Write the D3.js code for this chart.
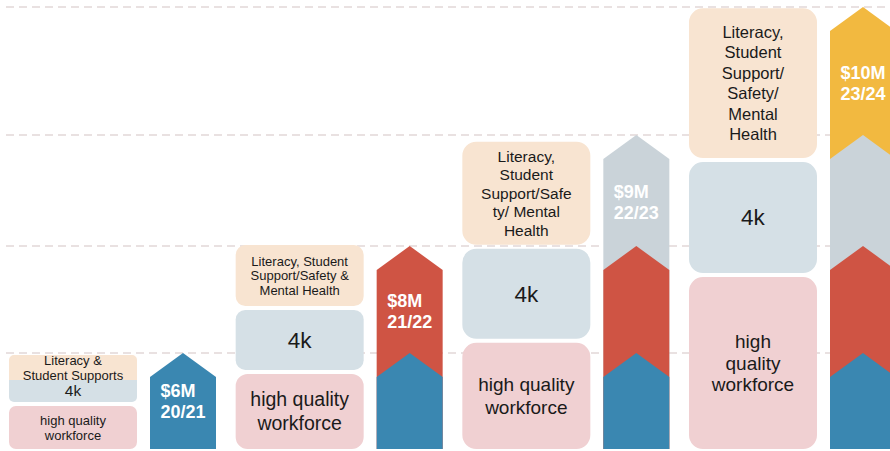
<!DOCTYPE html>
<html>
<head>
<meta charset="utf-8">
<script src="https://cdn.jsdelivr.net/npm/d3@7"></script>
<style>
  html, body { margin: 0; padding: 0; background: #ffffff; }
  svg { display: block; }
  text { font-family: "Liberation Sans", Arial, sans-serif; }
</style>
</head>
<body>
<svg id="chart" width="890" height="451"></svg>
<script>
// ---------------- DATA ----------------
const years = ["20/21", "21/22", "22/23", "23/24"];
const amounts = [6, 8, 9, 10];                       // $M per year
const amountLabels = ["$6M", "$8M", "$9M", "$10M"];

// share of each year's column height taken by each box
const workforceShare = [0.448, 0.37, 0.338, 0.389];
const fourKShare     = [0.229, 0.295, 0.287, 0.251];
const literacyShare  = [0.26, 0.30, 0.328, 0.339];

const workforceLabels = [
  ["high quality", "workforce"],
  ["high quality", "workforce"],
  ["high quality", "workforce"],
  ["high", "quality", "workforce"]
];
const fourKLabels = ["4k", "4k", "4k", "4k"];
const literacyLabels = [
  ["Literacy &", "Student Supports"],
  ["Literacy, Student", "Support/Safety &", "Mental Health"],
  ["Literacy,", "Student", "Support/Safe", "ty/ Mental", "Health"],
  ["Literacy,", "Student", "Support/", "Safety/", "Mental", "Health"]
];

// ---------------- STYLE / LAYOUT ----------------
const W = 890, Hh = 451;
const baseline = 449;
const arrowColors = ["#3a87b1", "#cf5444", "#cad3d9", "#f2b940"];
const boxColors = { workforce: "#f0d0d2", fourK: "#d5e0e6", literacy: "#f8e4d1" };
const textColor = "#1a1a1a";
const arrowW = 66, depth = 24;
const boxOffset = 141, boxW = 128, gap = 4;
const joinGap = [0, gap, gap, gap];          // first group: literacy + 4k form one box
const fonts = {
  workforce: [{fs: 13, lh: 15}, {fs: 19.5, lh: 24}, {fs: 19, lh: 23}, {fs: 19, lh: 21.5}],
  fourK:     [{fs: 15.5, lh: 15}, {fs: 22.5, lh: 22}, {fs: 22.5, lh: 22}, {fs: 22.5, lh: 22}],
  literacy:  [{fs: 13, lh: 15}, {fs: 13, lh: 14.5}, {fs: 15.5, lh: 18.5}, {fs: 16.5, lh: 20.5}]
};

const svg = d3.select("#chart");
svg.append("rect").attr("width", W).attr("height", Hh).attr("fill", "#fff");

// scales
const y = d3.scaleLinear().domain([0, 6, 8, 9, 10]).range([baseline, 353, 246, 135, 7]);
const x = d3.scalePoint().domain(years).range([150, 830]);

// gridlines
svg.append("g").selectAll("line").data(amounts).join("line")
  .attr("x1", 6).attr("x2", W)
  .attr("y1", d => y(d)).attr("y2", d => y(d))
  .attr("stroke", "#e2d7d7").attr("stroke-width", 1.3)
  .attr("stroke-dasharray", "8,5");

function rrect(x0, y0, w, h, rt, rb) {
  return `M${x0 + rt},${y0} H${x0 + w - rt} A${rt},${rt} 0 0 1 ${x0 + w},${y0 + rt}` +
    ` V${y0 + h - rb} A${rb},${rb} 0 0 1 ${x0 + w - rb},${y0 + h}` +
    ` H${x0 + rb} A${rb},${rb} 0 0 1 ${x0},${y0 + h - rb}` +
    ` V${y0 + rt} A${rt},${rt} 0 0 1 ${x0 + rt},${y0} Z`;
}
const rad = h => Math.max(5, Math.min(14, h * 0.16));

function multiline(g, lines, cx, cy, f) {
  const t = g.append("text").attr("text-anchor", "middle").attr("fill", textColor)
    .attr("font-size", f.fs);
  const first = cy - (lines.length - 1) * f.lh / 2 + f.fs * 0.35;
  lines.forEach((l, i) => t.append("tspan").attr("x", cx).attr("y", first + i * f.lh).text(l));
  return t;
}

// box stacks
const boxes = svg.append("g");
years.forEach((yr, i) => {
  const H = baseline - y(amounts[i]);
  const bx = x(yr) - boxOffset;
  const g = boxes.append("g");
  const hW = workforceShare[i] * H, yW = baseline - hW;
  const hK = fourKShare[i] * H, yK = yW - gap - hK;
  const hL = literacyShare[i] * H, yL = yK - joinGap[i] - hL;
  const joined = joinGap[i] === 0;

  g.append("path").attr("d", rrect(bx, yW, boxW, hW, rad(hW), rad(hW))).attr("fill", boxColors.workforce);
  g.append("path").attr("d", rrect(bx, yK, boxW, hK, joined ? 0 : rad(hK), rad(hK))).attr("fill", boxColors.fourK);
  g.append("path").attr("d", rrect(bx, yL, boxW, hL, rad(hL), joined ? 0 : rad(hL))).attr("fill", boxColors.literacy);

  multiline(g, workforceLabels[i], bx + boxW / 2, yW + hW / 2, fonts.workforce[i]);
  multiline(g, [fourKLabels[i]], bx + boxW / 2, yK + hK / 2, fonts.fourK[i]);
  multiline(g, literacyLabels[i], bx + boxW / 2, yL + hL / 2, fonts.literacy[i]);
});

// arrows
const arrows = svg.append("g");
years.forEach((yr, j) => {
  const ax = x(yr);
  const g = arrows.append("g");
  for (let k = j; k >= 0; k--) {
    const tip = y(amounts[k]);
    const pts = [[ax, baseline], [ax, tip + depth], [ax + arrowW / 2, tip],
                 [ax + arrowW, tip + depth], [ax + arrowW, baseline]];
    g.append("path").attr("d", d3.line()(pts) + "Z").attr("fill", arrowColors[k]);
  }
  const tip = y(amounts[j]);
  const cy = j === 0 ? (tip + baseline) / 2 : (tip + y(amounts[j - 1])) / 2 + depth / 2;
  const f = { fs: 18, lh: 21 };
  const t = g.append("text").attr("fill", "#ffffff").attr("font-weight", "bold").attr("font-size", f.fs);
  const first = cy - f.lh / 2 + f.fs * 0.35;
  const lines = [amountLabels[j], yr];
  const spans = lines.map((l, i) => t.append("tspan").attr("y", first + i * f.lh).text(l));
  const maxW = d3.max(spans, s => s.node().getComputedTextLength());
  spans.forEach(s => s.attr("x", ax + arrowW / 2 - maxW / 2));
});
</script>
</body>
</html>
